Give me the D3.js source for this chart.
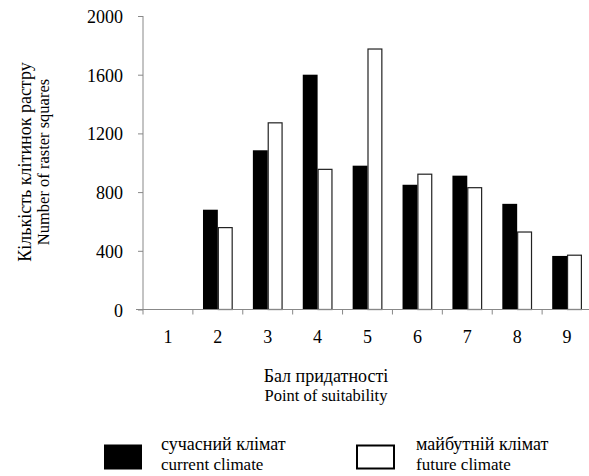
<!DOCTYPE html>
<html><head><meta charset="utf-8">
<script src="https://cdn.jsdelivr.net/npm/d3@7/dist/d3.min.js"></script>
<style>
body{margin:0;background:#fff;}
svg{display:block;}
</style></head>
<body>
<script>
const categories = ["1","2","3","4","5","6","7","8","9"];
const series = ["current","future"];
const currentValues = [0, 680, 1085, 1600, 980, 850, 912, 720, 365];
const futureValues  = [0, 558, 1272, 955, 1775, 922, 830, 528, 370];
const yTicks = [0, 400, 800, 1200, 1600, 2000];
const legendLabels = [["сучасний клімат","current climate"],["майбутній клімат","future climate"]];

const FONT = "Liberation Serif";
const W = 589, H = 476;
const svg = d3.select("body").append("svg").attr("width", W).attr("height", H);

const x0 = d3.scaleBand().domain(categories).range([143, 592]).padding(0);
const x1 = d3.scaleBand().domain(series).range([0, x0.bandwidth()]).paddingInner(0).paddingOuter(0.68);
const y = d3.scaleLinear().domain([0, 2000]).range([309.5, 16]);

const data = categories.map((c, i) => ({cat: c, current: currentValues[i], future: futureValues[i]}));

function label(parent, txt, x, yy, size, anchor, rot) {
  return parent.append("text")
    .attr("transform", `translate(${x},${yy})${rot ? " rotate(" + rot + ")" : ""}`)
    .attr("text-anchor", anchor || "start")
    .attr("font-family", FONT).attr("font-size", size)
    .style("font-family", FONT).style("font-size", size + "px").style("fill", "#000")
    .text(txt);
}

// bars
const g = svg.append("g");
const groups = g.selectAll("g.grp").data(data).join("g")
  .attr("transform", d => `translate(${x0(d.cat)},0)`);
groups.selectAll("rect").data(d => series.map(s => ({s, v: d[s]}))).join("rect")
  .attr("x", d => x1(d.s) + (d.s === "future" ? 0.5 : 0))
  .attr("width", d => x1.bandwidth() - (d.s === "future" ? 1 : 0))
  .attr("y", d => y(d.v))
  .attr("height", d => y(0) - y(d.v))
  .attr("fill", d => d.s === "current" ? "#000" : "#fff")
  .attr("stroke", d => d.s === "current" ? "none" : "#222")
  .attr("stroke-width", 1.2)
  .style("display", d => d.v > 0 ? null : "none");

// y axis
const axisColor = "#888";
const yAxis = svg.append("g").attr("transform", "translate(143,0)")
  .call(d3.axisLeft(y).tickValues(yTicks).tickSize(5).tickFormat(d3.format("d")));
yAxis.select(".domain").attr("stroke", axisColor).attr("d", `M-0,${y(2000)}H0V${y(0)}`);
yAxis.selectAll(".tick line").attr("stroke", axisColor);
yAxis.selectAll(".tick text").remove();
yAxis.selectAll(".tick").each(function(d) {
  label(d3.select(this), d3.format("d")(d), -20, 6.5, 18, "end");
});

// x axis
const xAxis = svg.append("g").attr("transform", `translate(0,${y(0)})`);
xAxis.append("line").attr("x1", 136).attr("x2", 592).attr("y1", 0).attr("y2", 0).attr("stroke", axisColor);
const bounds = categories.map(c => x0(c));
xAxis.selectAll("line.tk").data(bounds).join("line").attr("class","tk")
  .attr("x1", d => d).attr("x2", d => d).attr("y1", 0).attr("y2", 5).attr("stroke", axisColor);
categories.forEach(c => label(xAxis, c, x0(c) + x0.bandwidth()/2, 33, 18, "middle"));

// x title
label(svg, "Бал придатності", 326, 382, 18, "middle");
label(svg, "Point of suitability", 326, 401, 16.5, "middle");

// y title
label(svg, "Кількість клітинок растру", 31, 162, 18, "middle", -90);
label(svg, "Number of raster squares", 49, 162, 16.5, "middle", -90);

// legend
const leg = svg.append("g");
const legX = [104, 356];
const textX = [161, 416];
leg.selectAll("rect").data(series).join("rect")
  .attr("x", (d,i) => legX[i] + (i ? 1 : 0)).attr("y", (d,i)=> i ? 445.5 : 444.5)
  .attr("width", (d,i) => i ? 37 : 38).attr("height", (d,i)=> i ? 23 : 25)
  .attr("fill", (d,i) => i ? "#fff" : "#000")
  .attr("stroke", (d,i) => i ? "#000" : "none").attr("stroke-width", 2);
legendLabels.forEach((d, i) => {
  label(leg, d[0], textX[i], 450, 18, "start");
  label(leg, d[1], textX[i], 470, 17, "start");
});
</script>
</body></html>
